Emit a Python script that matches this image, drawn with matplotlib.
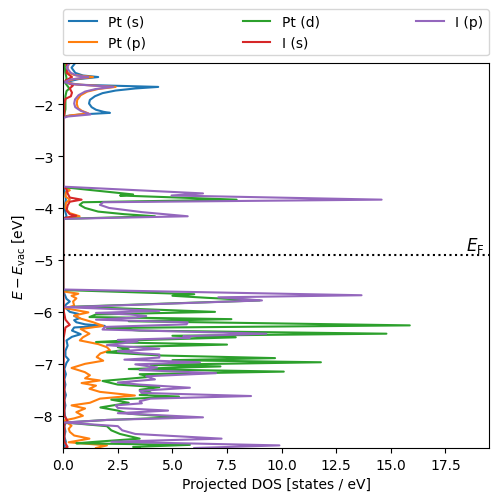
import numpy as np
import matplotlib
matplotlib.use("Agg")
import matplotlib.pyplot as plt

# (energy [eV], projected DOS [states / eV])
pt_s = [
    (-1.21, 0.55), (-1.30, 0.38), (-1.40, 0.55), (-1.45, 0.9), (-1.48, 1.6), (-1.52, 0.7),
    (-1.56, 0.3), (-1.59, 0.12), (-1.63, 0.8), (-1.67, 4.35), (-1.70, 3.3), (-1.74, 2.4),
    (-1.79, 1.8), (-1.85, 1.45), (-1.92, 1.22), (-1.99, 1.18), (-2.06, 1.3), (-2.11, 1.5),
    (-2.15, 1.85), (-2.17, 2.14), (-2.20, 0.8), (-2.23, 0.15), (-2.26, 0.0),
    (-3.60, 0.0), (-3.70, 0.08), (-3.84, 0.12), (-4.00, 0.05), (-4.16, 0.15), (-4.22, 0.0),
    (-5.58, 0.0), (-5.65, 0.05), (-5.75, 0.15), (-5.80, 0.3), (-5.85, 0.15), (-5.90, 0.05),
    (-6.00, 0.3), (-6.04, 0.7), (-6.08, 0.5), (-6.12, 0.75), (-6.16, 0.5), (-6.20, 0.6),
    (-6.24, 1.0), (-6.27, 1.9), (-6.30, 0.5), (-6.36, 0.4), (-6.43, 0.8), (-6.48, 0.4),
    (-6.55, 0.15), (-6.65, 0.2), (-6.75, 0.1), (-6.85, 0.1), (-6.92, 0.25), (-6.98, 0.15),
    (-7.10, 0.05), (-7.20, 0.12), (-7.30, 0.05), (-7.40, 0.1), (-7.50, 0.05), (-7.60, 0.12),
    (-7.70, 0.05), (-7.80, 0.1), (-7.90, 0.05), (-8.00, 0.08), (-8.10, 0.15), (-8.20, 0.05),
    (-8.30, 0.1), (-8.40, 0.05), (-8.50, 0.12), (-8.62, 0.05),
]

pt_p = [
    (-1.21, 0.1), (-1.30, 0.12), (-1.38, 0.15), (-1.44, 0.5), (-1.48, 1.36), (-1.52, 0.5),
    (-1.57, 0.1), (-1.62, 0.5), (-1.67, 2.4), (-1.71, 1.6), (-1.76, 1.1), (-1.83, 0.8),
    (-1.92, 0.64), (-2.00, 0.62), (-2.08, 0.68), (-2.13, 0.85), (-2.18, 1.15), (-2.22, 0.3),
    (-2.26, 0.0),
    (-3.60, 0.0), (-3.63, 0.2), (-3.66, 0.3), (-3.70, 0.12), (-3.78, 0.1), (-3.84, 0.3),
    (-3.90, 0.12), (-4.00, 0.1), (-4.10, 0.3), (-4.16, 0.75), (-4.20, 0.1), (-4.22, 0.0),
    (-5.58, 0.0), (-5.61, 0.05), (-5.65, 0.69), (-5.69, 0.38), (-5.74, 0.6), (-5.80, 0.45),
    (-5.88, 0.5), (-5.93, 0.1), (-6.01, 1.15), (-6.07, 0.5), (-6.13, 0.8), (-6.20, 1.37),
    (-6.27, 1.83), (-6.33, 0.8), (-6.42, 1.2), (-6.49, 0.9), (-6.55, 0.76), (-6.62, 1.6),
    (-6.68, 2.0), (-6.74, 2.14), (-6.80, 1.7), (-6.87, 1.53), (-6.94, 1.83), (-7.00, 1.0),
    (-7.08, 0.38), (-7.16, 0.99), (-7.22, 1.22), (-7.28, 1.0), (-7.32, 1.68), (-7.37, 0.84),
    (-7.42, 1.5), (-7.48, 1.2), (-7.54, 1.68), (-7.61, 3.28), (-7.67, 1.68), (-7.75, 1.22),
    (-7.80, 0.38), (-7.86, 1.0), (-7.93, 0.6), (-8.00, 0.9), (-8.05, 0.5), (-8.09, 0.02),
    (-8.14, 0.2), (-8.19, 0.38), (-8.25, 0.25), (-8.31, 0.3), (-8.38, 0.5), (-8.44, 1.2),
    (-8.51, 0.25), (-8.57, 2.0), (-8.62, 1.5),
]

pt_d = [
    (-1.21, 0.05), (-1.40, 0.1), (-1.50, 0.15), (-1.60, 0.1), (-1.70, 0.28), (-1.75, 0.15),
    (-1.85, 0.1), (-2.10, 0.1), (-2.20, 0.05), (-2.25, 0.0),
    (-3.60, 0.0), (-3.74, 3.2), (-3.76, 2.6), (-3.84, 7.94), (-3.89, 0.9), (-3.94, 0.75),
    (-4.00, 1.0), (-4.07, 1.6), (-4.12, 2.8), (-4.16, 4.2), (-4.21, 0.0),
    (-5.58, 0.0), (-5.66, 6.0), (-5.69, 5.0), (-5.73, 6.6), (-5.78, 9.0), (-5.90, 0.5),
    (-5.96, 4.4), (-6.00, 6.95), (-6.05, 1.5), (-6.10, 1.2), (-6.14, 7.7), (-6.18, 3.0),
    (-6.26, 15.87), (-6.31, 2.0), (-6.36, 3.5), (-6.42, 14.8), (-6.46, 5.0), (-6.49, 7.9),
    (-6.55, 3.0), (-6.58, 1.5), (-6.63, 7.5), (-6.68, 2.5), (-6.72, 3.0), (-6.78, 2.0),
    (-6.84, 4.5), (-6.89, 9.7), (-6.93, 5.0), (-6.97, 11.8), (-7.02, 4.0), (-7.05, 7.2),
    (-7.10, 3.0), (-7.15, 10.1), (-7.20, 3.5), (-7.25, 4.0), (-7.33, 1.8), (-7.40, 2.5),
    (-7.45, 4.4), (-7.50, 3.5), (-7.55, 4.0), (-7.60, 3.5), (-7.63, 5.3), (-7.69, 2.2),
    (-7.75, 3.0), (-7.84, 1.7), (-7.90, 2.5), (-7.96, 3.0), (-8.03, 5.3), (-8.08, 2.0),
    (-8.13, 0.1), (-8.20, 2.0), (-8.28, 2.2), (-8.35, 2.6), (-8.44, 3.5), (-8.50, 1.5),
    (-8.53, 0.6), (-8.56, 5.8), (-8.60, 3.2), (-8.62, 3.5),
]

i_s = [
    (-1.21, 0.15), (-1.30, 0.2), (-1.40, 0.15), (-1.48, 0.4), (-1.55, 0.1), (-1.60, 0.25),
    (-1.64, 0.45), (-1.70, 0.3), (-1.78, 0.4), (-1.85, 0.35), (-1.90, 0.1), (-2.00, 0.05),
    (-2.20, 0.05), (-2.25, 0.0),
    (-3.58, 0.0), (-3.64, 0.15), (-3.72, 0.2), (-3.80, 0.3), (-3.84, 0.84), (-3.88, 0.3),
    (-3.95, 0.2), (-4.05, 0.15), (-4.12, 0.3), (-4.15, 0.6), (-4.19, 0.1), (-4.22, 0.0),
    (-5.58, 0.0), (-5.80, 0.02), (-6.00, 0.03), (-6.15, 0.1), (-6.25, 0.3), (-6.30, 0.1),
    (-6.50, 0.02), (-7.00, 0.02), (-7.50, 0.05), (-8.00, 0.05), (-8.10, 0.2), (-8.15, 0.05),
    (-8.50, 0.05), (-8.60, 0.2), (-8.62, 0.1),
]

i_p = [
    (-1.21, 0.3), (-1.30, 0.15), (-1.40, 0.35), (-1.45, 0.6), (-1.48, 1.15), (-1.53, 0.3),
    (-1.58, 0.05), (-1.62, 0.5), (-1.67, 2.3), (-1.71, 1.5), (-1.76, 1.0), (-1.83, 0.7),
    (-1.91, 0.54), (-1.99, 0.5), (-2.06, 0.55), (-2.13, 0.8), (-2.20, 1.25), (-2.24, 0.2),
    (-2.27, 0.0),
    (-3.59, 0.0), (-3.72, 6.4), (-3.76, 4.96), (-3.84, 14.58), (-3.89, 1.83), (-3.94, 1.68),
    (-4.00, 2.1), (-4.08, 3.6), (-4.16, 5.7), (-4.21, 0.0),
    (-5.57, 0.0), (-5.68, 13.66), (-5.72, 7.1), (-5.78, 9.1), (-5.91, 0.1), (-5.98, 4.4),
    (-6.02, 1.5), (-6.05, 3.05), (-6.08, 3.8), (-6.11, 3.3), (-6.15, 1.5), (-6.20, 5.7),
    (-6.24, 5.65), (-6.29, 1.9), (-6.34, 1.8), (-6.42, 9.3), (-6.47, 5.5), (-6.50, 5.8),
    (-6.54, 2.5), (-6.57, 3.4), (-6.64, 2.0), (-6.66, 2.6), (-6.71, 4.4), (-6.76, 2.5),
    (-6.80, 3.6), (-6.82, 4.4), (-6.88, 4.4), (-6.92, 2.8), (-6.97, 6.26), (-7.01, 3.3),
    (-7.07, 4.3), (-7.12, 3.5), (-7.18, 7.0), (-7.24, 3.8), (-7.30, 4.2), (-7.36, 2.5),
    (-7.40, 3.5), (-7.46, 5.8), (-7.52, 3.5), (-7.56, 3.6), (-7.62, 8.6), (-7.67, 4.0),
    (-7.72, 3.5), (-7.76, 3.6), (-7.80, 2.4), (-7.85, 2.5), (-7.90, 4.8), (-7.95, 2.5),
    (-8.03, 6.4), (-8.08, 2.0), (-8.13, 0.05), (-8.20, 2.5), (-8.28, 2.7), (-8.35, 3.3),
    (-8.44, 7.25), (-8.50, 2.2), (-8.57, 9.9), (-8.62, 6.0),
]

labels = ["Pt (s)", "Pt (p)", "Pt (d)", "I (s)", "I (p)"]
series = [pt_s, pt_p, pt_d, i_s, i_p]
e_fermi = -4.90

fig, ax = plt.subplots(figsize=(4.98, 5.02), dpi=100)
fig.subplots_adjust(left=0.127, right=0.982, bottom=0.1056, top=0.8725)

for label, data in zip(labels, series):
    e, dos = np.array(data).T
    ax.plot(dos, e, label=label)

ax.axhline(e_fermi, color="k", linestyle=":")
ax.text(19.3, e_fermi, r"$E_\mathrm{F}$", ha="right", va="bottom", fontsize=12)

ax.set_xlim(0, 19.5)
ax.set_ylim(-8.62, -1.21)
ax.set_xlabel("Projected DOS [states / eV]")
ax.set_ylabel(r"$E - E_\mathrm{vac}$ [eV]")
ax.legend(bbox_to_anchor=(0, 1.02, 1, 0.102), loc="lower left", ncol=3,
          mode="expand", borderaxespad=0)

fig.savefig("out.png", dpi=100)
